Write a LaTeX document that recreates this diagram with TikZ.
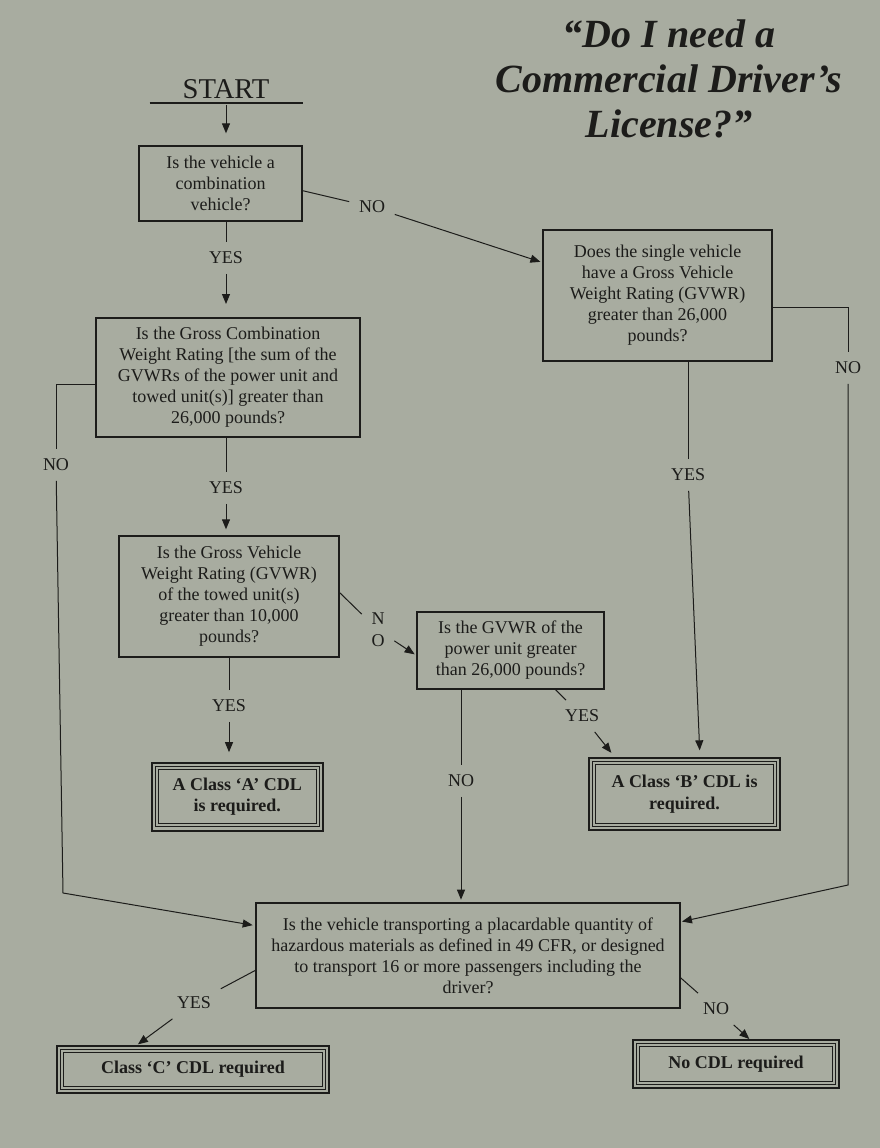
\documentclass[tikz,border=0pt]{standalone}
\usepackage{fontspec}
\setmainfont{Liberation Serif}
\usetikzlibrary{arrows.meta}

\definecolor{paper}{RGB}{168,172,160}
\definecolor{ink}{RGB}{28,28,26}

\tikzset{every picture/.style={line width=0.75pt}}
\tikzset{
  qbox/.style={draw=ink, line width=1pt, inner sep=0pt, align=center, text=ink, font=\fontsize{13.5}{15.75}\selectfont},
  resout/.style={draw=ink, line width=1.5pt, inner sep=0pt},
  resbox/.style={draw=ink, double=paper, double distance=1.8pt, line width=0.6pt, inner sep=0pt, align=center, text=ink, font=\fontsize{13.5}{16}\selectfont\bfseries},
  lbl/.style={inner sep=7pt, align=center, text=ink, font=\fontsize{13.5}{16.5}\selectfont},
  flow/.style={draw=ink, -{Triangle[length=7.5pt,width=6pt]}},
  link/.style={draw=ink},
}

\begin{document}
\begin{tikzpicture}[x=0.75pt,y=0.75pt,yscale=-1]
%set diagram left start at 0, and has height of 1148
\fill[paper] (0,0) rectangle (880,1148);
\useasboundingbox (0,0) rectangle (880,1148);

% Title
\draw (669,79) node [align=center][text=ink, font=\fontsize{30}{34}\selectfont\bfseries\itshape] (title) {“Do I need a\\Commercial Driver’s\\License?”};
% Start
\draw (226,103) node [anchor=south][inner xsep=0pt, inner ysep=3pt, minimum width=114pt][text=ink, font=\fontsize{21.5}{24}\selectfont] (start) {START};
\draw [draw=ink, line width=2pt] (start.south west) -- (start.south east) ;

% Question boxes
\draw (220.5,183.5) node [qbox, minimum width=122.25pt, minimum height=56.25pt] (box1) {Is the vehicle a\\combination\\vehicle?};
\draw (657.5,295.5) node [qbox, minimum width=171.75pt, minimum height=98.25pt] (box2) {Does the single vehicle\\have a Gross Vehicle\\Weight Rating (GVWR)\\greater than 26,000\\pounds?};
\draw (228,377.5) node [qbox, minimum width=198pt, minimum height=89.25pt] (box3) {Is the Gross Combination\\Weight Rating [the sum of the\\GVWRs of the power unit and\\towed unit(s)] greater than\\26,000 pounds?};
\draw (229,596.5) node [qbox, minimum width=165pt, minimum height=90.75pt] (box4) {Is the Gross Vehicle\\Weight Rating (GVWR)\\of the towed unit(s)\\greater than 10,000\\pounds?};
\draw (510.5,650.5) node [qbox, minimum width=140.25pt, minimum height=57.75pt] (box5) {Is the GVWR of the\\power unit greater\\than 26,000 pounds?};
\draw (468,955.5) node [qbox, minimum width=318pt, minimum height=78.75pt] (box6) {Is the vehicle transporting a placardable quantity of\\hazardous materials as defined in 49 CFR, or designed\\to transport 16 or more passengers including the\\driver?};

% Result boxes
\draw (237.25,796.5) node [resout, minimum width=128.6pt, minimum height=51pt] (classAo) {};
\draw (237.25,796.5) node [resbox, minimum width=120.75pt, minimum height=43.1pt] (classA) {A Class ‘A’ CDL\\is required.};
\draw (684.5,794) node [resout, minimum width=143.25pt, minimum height=54pt] (classBo) {};
\draw (684.5,794) node [resbox, minimum width=135.4pt, minimum height=46.1pt] (classB) {A Class ‘B’ CDL is\\required.};
\draw (193,1069.4) node [resout, minimum width=204pt, minimum height=35.5pt] (classCo) {};
\draw (193,1069.4) node [resbox, minimum width=196.1pt, minimum height=27.6pt] (classC) {Class ‘C’ CDL required};
\draw (736,1064) node [resout, minimum width=154.5pt, minimum height=36pt] (noCDLo) {};
\draw (736,1064) node [resbox, minimum width=146.6pt, minimum height=28.1pt] (noCDL) {No CDL required};

% Text Node
\draw (372,207) node [lbl] (no1) {NO};
\draw (226,258) node [lbl] (yes1) {YES};
\draw (226,488) node [lbl] (yes2) {YES};
\draw (56,465) node [lbl] (no2) {NO};
\draw (848,368) node [lbl] (no3) {NO};
\draw (688,475) node [lbl] (yes3) {YES};
\draw (378,630) node [lbl] (no4) {N\\O};
\draw (229,706) node [lbl] (yes4) {YES};
\draw (461,781) node [lbl] (no5) {NO};
\draw (582,716) node [lbl] (yes5) {YES};
\draw (194,1003) node [lbl] (yes6) {YES};
\draw (716,1009) node [lbl] (no6) {NO};
\coordinate (c1) at (63,893);
\coordinate (c2) at (848,885);

%Straight Lines
\draw [flow, shorten <=1.5pt, shorten >=9pt] (start.south) -- (box1.north -| start.south) ;
\draw [link] (box1.south -| yes1) -- (yes1) ;
\draw [flow, shorten >=10pt] (yes1) -- (box3.north -| yes1) ;
\draw [link] (box1.-5) -- (no1) ;
\draw [flow, shorten >=1.5pt] (no1) -- (box2.164) ;
\draw [link] (box3.south -| yes2) -- (yes2) ;
\draw [flow, shorten >=4.5pt] (yes2) -- (box4.north -| yes2) ;
\draw [link] (box3.183) -| (no2) ;
\draw [flow, shorten >=2pt] (no2) -- (c1) -- (box6.172) ;
\draw [link] (box2.-6) -| (no3) ;
\draw [flow, shorten >=1pt] (no3) -- (c2) -- (box6.9) ;
\draw [link] (box2.south -| yes3) -- (yes3) ;
\draw [flow, shorten >=5pt] (yes3) -- ([xshift=11.6pt]classBo.north) ;
\draw [link] (box4.2) -- (no4) ;
\draw [flow, shorten >=1.5pt] (no4) -- (box5.183) ;
\draw [link] (box4.south -| yes4) -- (yes4) ;
\draw [flow, shorten >=7pt] (yes4) -- (classAo.north -| yes4) ;
\draw [link] (box5.south -| no5) -- (no5) ;
\draw [flow, shorten >=2pt] (no5) -- (box6.north -| no5) ;
\draw [link] (box5.-41) -- (yes5) ;
\draw [flow, shorten >=4pt] (yes5) -- ([xshift=20pt]classBo.north west) ;
\draw [link] (box6.184) -- (yes6) ;
\draw [flow, shorten >=0.5pt] (yes6) -- ([xshift=61pt]classCo.north west) ;
\draw [link] (box6.-6) -- (no6) ;
\draw [flow] (no6) -- ([xshift=88pt]noCDLo.north west) ;

\end{tikzpicture}
\end{document}
